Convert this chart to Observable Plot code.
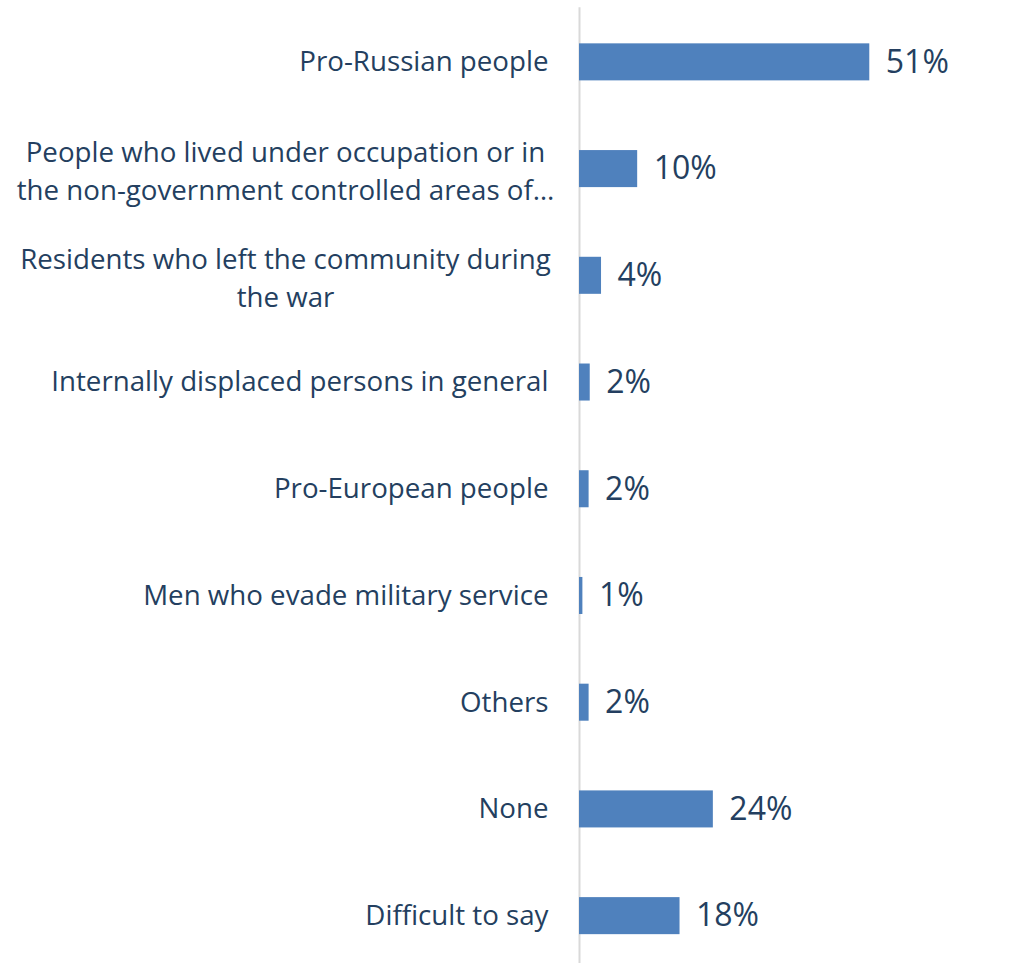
<!DOCTYPE html>
<html>
<head>
<meta charset="utf-8">
<script src="https://cdn.jsdelivr.net/npm/d3@7"></script>
<script src="https://cdn.jsdelivr.net/npm/@observablehq/plot@0.6"></script>
<style>
  html, body { margin: 0; padding: 0; background: #fff; }
  #chart svg { display: block; }
</style>
</head>
<body>
<div id="chart"></div>
<script>
const categories = [
  "Pro-Russian people",
  "People who lived under occupation or in\nthe non-government controlled areas of…",
  "Residents who left the community during\nthe war",
  "Internally displaced persons in general",
  "Pro-European people",
  "Men who evade military service",
  "Others",
  "None",
  "Difficult to say"
];
const values = [51.4, 10.3, 3.9, 1.9, 1.7, 0.6, 1.7, 23.7, 17.8];
const valueLabels = ["51%", "10%", "4%", "2%", "2%", "1%", "2%", "24%", "18%"];

const data = categories.map((c, i) => ({category: c, value: values[i], label: valueLabels[i], multi: c.includes("\n")}));

const textColor = "#243f60";
const font = "'Open Sans', sans-serif";

const chart = Plot.plot({
  width: 1015,
  height: 963,
  marginLeft: 0,
  marginRight: 0,
  marginTop: 0,
  marginBottom: 0,
  style: {fontFamily: font, background: "#fff"},
  x: {domain: [0, 77.2], range: [579, 1015], axis: null},
  y: {domain: categories, range: [8.5, 969], paddingInner: 0.653, paddingOuter: 0.3265, round: false, axis: null},
  marks: [
    Plot.ruleX([0], {stroke: "#d9d9d9", strokeWidth: 2, y1: () => categories[0], y2: () => categories[categories.length-1], insetTop: -36, insetBottom: -40}),
    Plot.barX(data, {x: "value", y: "category", fill: "#4f81bd"}),
    Plot.text(data, {x: "value", y: "category", text: "label", textAnchor: "start", dx: 16, fill: textColor, fontSize: 32}),
    Plot.text(data.filter(d => !d.multi), {x: 0, y: "category", text: "category", textAnchor: "end", dx: -31, fill: textColor, fontSize: 27.7}),
    Plot.text(data.filter(d => d.multi), {x: 0, y: "category", text: "category", textAnchor: "middle", dx: -294, fill: textColor, fontSize: 27.7, lineHeight: 1.37})
  ]
});
document.getElementById("chart").appendChild(chart);
</script>
</body>
</html>
